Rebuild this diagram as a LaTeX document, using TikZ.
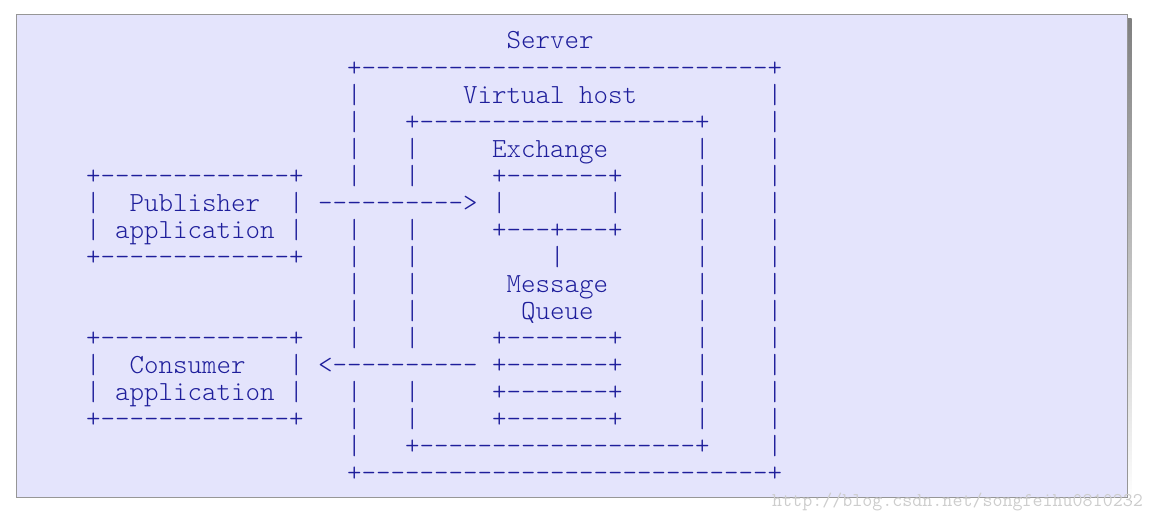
\documentclass[tikz,border=0pt]{standalone}
\usepackage{fontspec}
\newfontfamily\lightmono{Latin Modern Mono Light}
\definecolor{ink}{RGB}{30,30,155}
\definecolor{paper}{RGB}{228,228,252}
\definecolor{frame}{RGB}{150,150,150}
\definecolor{shade}{RGB}{180,180,180}
\definecolor{wm}{RGB}{205,205,205}
\tikzset{
  txt/.style={anchor=base west, inner sep=0pt, outer sep=0pt, text=ink,
    font=\lightmono\fontsize{27.62}{30}\selectfont},
  wmark/.style={anchor=base west, inner sep=0pt, text=wm,
    font=\ttfamily\fontsize{19.45}{20}\selectfont}
}
% name, column, row, text
\newcommand\asc[4]{\node[txt] (#1) at ({57+#2*14.5},{49+27.06*#3}) {#4};}
\begin{document}
\begin{tikzpicture}[x=1pt,y=-1pt]
\useasboundingbox (0,0) rectangle (1153,521);
\fill[shade] (20,19) rectangle (1131.5,501.5);
\filldraw[fill=paper, draw=frame, line width=1pt] (16,15) rectangle (1127,497);
% row 0
\asc{server}{31}{0}{Server}
% row 1
\asc{srvtop}{20}{1}{+----------------------------+}
% row 2
\asc{s2l}{20}{2}{|}\asc{vhost}{28}{2}{Virtual host}\asc{s2r}{49}{2}{|}
% row 3
\asc{s3l}{20}{3}{|}\asc{vhtop}{24}{3}{+-------------------+}\asc{s3r}{49}{3}{|}
% row 4
\asc{s4l}{20}{4}{|}\asc{v4l}{24}{4}{|}\asc{exch}{30}{4}{Exchange}\asc{v4r}{44}{4}{|}\asc{s4r}{49}{4}{|}
% row 5
\asc{pubtop}{2}{5}{+-------------+}\asc{s5l}{20}{5}{|}\asc{v5l}{24}{5}{|}\asc{extop}{30}{5}{+-------+}\asc{v5r}{44}{5}{|}\asc{s5r}{49}{5}{|}
% row 6
\asc{p6l}{2}{6}{|}\asc{pub}{5}{6}{Publisher}\asc{p6r}{16}{6}{|}\asc{arrowout}{18}{6}{---------->}\asc{e6l}{30}{6}{|}\asc{e6r}{38}{6}{|}\asc{v6r}{44}{6}{|}\asc{s6r}{49}{6}{|}
% row 7
\asc{p7l}{2}{7}{|}\asc{pubapp}{4}{7}{application}\asc{p7r}{16}{7}{|}\asc{s7l}{20}{7}{|}\asc{v7l}{24}{7}{|}\asc{exbot}{30}{7}{+---+---+}\asc{v7r}{44}{7}{|}\asc{s7r}{49}{7}{|}
% row 8
\asc{pubbot}{2}{8}{+-------------+}\asc{s8l}{20}{8}{|}\asc{v8l}{24}{8}{|}\asc{bind}{34}{8}{|}\asc{v8r}{44}{8}{|}\asc{s8r}{49}{8}{|}
% row 9
\asc{s9l}{20}{9}{|}\asc{v9l}{24}{9}{|}\asc{msg}{31}{9}{Message}\asc{v9r}{44}{9}{|}\asc{s9r}{49}{9}{|}
% row 10
\asc{s10l}{20}{10}{|}\asc{v10l}{24}{10}{|}\asc{queue}{32}{10}{Queue}\asc{v10r}{44}{10}{|}\asc{s10r}{49}{10}{|}
% row 11
\asc{contop}{2}{11}{+-------------+}\asc{s11l}{20}{11}{|}\asc{v11l}{24}{11}{|}\asc{q1}{30}{11}{+-------+}\asc{v11r}{44}{11}{|}\asc{s11r}{49}{11}{|}
% row 12
\asc{c12l}{2}{12}{|}\asc{con}{5}{12}{Consumer}\asc{c12r}{16}{12}{|}\asc{arrowin}{18}{12}{<----------}\asc{q2}{30}{12}{+-------+}\asc{v12r}{44}{12}{|}\asc{s12r}{49}{12}{|}
% row 13
\asc{c13l}{2}{13}{|}\asc{conapp}{4}{13}{application}\asc{c13r}{16}{13}{|}\asc{s13l}{20}{13}{|}\asc{v13l}{24}{13}{|}\asc{q3}{30}{13}{+-------+}\asc{v13r}{44}{13}{|}\asc{s13r}{49}{13}{|}
% row 14
\asc{conbot}{2}{14}{+-------------+}\asc{s14l}{20}{14}{|}\asc{v14l}{24}{14}{|}\asc{q4}{30}{14}{+-------+}\asc{v14r}{44}{14}{|}\asc{s14r}{49}{14}{|}
% row 15
\asc{s15l}{20}{15}{|}\asc{vhbot}{24}{15}{+-------------------+}\asc{s15r}{49}{15}{|}
% row 16
\asc{srvbot}{20}{16}{+----------------------------+}
% watermark
\node[wmark] (url) at (772,506) {http://blog.csdn.net/songfeihu0810232};
\end{tikzpicture}
\end{document}
